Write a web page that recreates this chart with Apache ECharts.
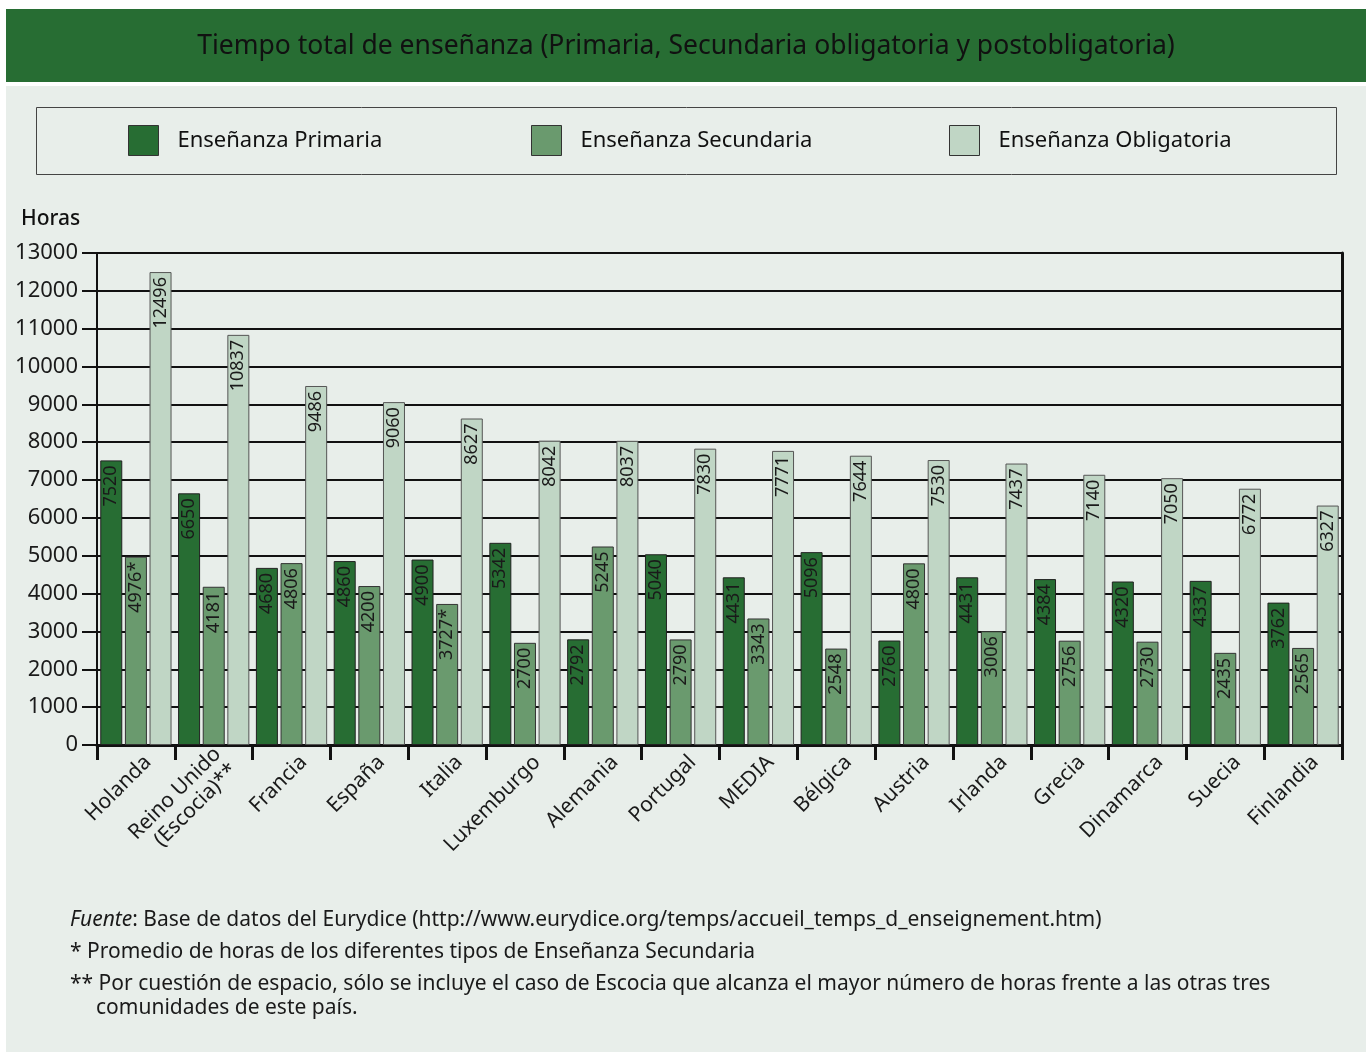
<!DOCTYPE html>
<html>
<head>
<meta charset="utf-8">
<script src="https://cdn.jsdelivr.net/npm/echarts@6/dist/echarts.min.js"></script>
<style>
html,body{margin:0;padding:0;background:#ffffff;}
#c{width:1372px;height:1052px;}
</style>
</head>
<body>
<div id="c"></div>
<script>
const categories = ['Holanda','Reino Unido\n(Escocia)**','Francia','España','Italia','Luxemburgo','Alemania','Portugal','MEDIA','Bélgica','Austria','Irlanda','Grecia','Dinamarca','Suecia','Finlandia'];
const primaria = [7520,6650,4680,4860,4900,5342,2792,5040,4431,5096,2760,4431,4384,4320,4337,3762];
const secundaria = [4976,4181,4806,4200,3727,2700,5245,2790,3343,2548,4800,3006,2756,2730,2435,2565];
const secundariaLabels = ['4976*','4181','4806','4200','3727*','2700','5245','2790','3343','2548','4800','3006','2756','2730','2435','2565'];
const obligatoria = [12496,10837,9486,9060,8627,8042,8037,7830,7771,7644,7530,7437,7140,7050,6772,6327];
const seriesNames = ['Enseñanza Primaria','Enseñanza Secundaria','Enseñanza Obligatoria'];
const colors = ['#276d33','#6a9a6e','#c0d6c5'];

const FONT = '"Noto Sans", "Open Sans", sans-serif';
const chart = echarts.init(document.getElementById('c'));

function labelCfg(fmt){
  return {
    show:true, position:'insideTop', rotate:90, align:'right', verticalAlign:'middle',
    distance:5, fontSize:18, color:'#1a1a1a', fontFamily:FONT,
    formatter: fmt
  };
}

const legendX = [123, 526, 944];

chart.setOption({
  backgroundColor:'#ffffff',
  animation:false,
  graphic:[
    {type:'rect', shape:{x:6,y:9,width:1360,height:73}, style:{fill:'#276d33'}, z:-10},
    {type:'rect', shape:{x:6,y:86,width:1360,height:966}, style:{fill:'#e8eeea'}, z:-10},
    {type:'rect', shape:{x:36.5,y:107.5,width:1300,height:67}, style:{fill:'none',stroke:'#444',lineWidth:1}, z:-5},
    {type:'text', left:21, top:209, style:{text:'Horas', font:'500 21px '+FONT, fill:'#111'}},
    {type:'text', left:70, top:910, style:{
      text:'{i|Fuente}: Base de datos del Eurydice (http://www.eurydice.org/temps/accueil_temps_d_enseignement.htm)',
      font:'21px '+FONT, fill:'#1a1a1a',
      rich:{i:{fontStyle:'italic', fontSize:21, fontFamily:FONT, fill:'#1a1a1a'}}
    }},
    {type:'text', left:70, top:942, style:{text:'* Promedio de horas de los diferentes tipos de Enseñanza Secundaria', font:'21px '+FONT, fill:'#1a1a1a'}},
    {type:'text', left:70, top:974, style:{text:'** Por cuestión de espacio, sólo se incluye el caso de Escocia que alcanza el mayor número de horas frente a las otras tres', font:'21px '+FONT, fill:'#1a1a1a'}},
    {type:'text', left:96, top:998, style:{text:'comunidades de este país.', font:'21px '+FONT, fill:'#1a1a1a'}}
  ],
  title:{
    text:'Tiempo total de enseñanza (Primaria, Secundaria obligatoria y postobligatoria)',
    left:'center', top:28,
    textStyle:{fontSize:26.5, fontWeight:'normal', color:'#111', fontFamily:FONT}
  },
  legend: seriesNames.map((n,i)=>({
    data:[n], left:legendX[i], top:120, itemWidth:30, itemHeight:30, itemGap:0,
    icon:'rect',
    textStyle:{fontSize:22, color:'#111', fontFamily:FONT, padding:[0,0,0,14]},
    itemStyle:{borderColor:'#333', borderWidth:1},
    selectedMode:false
  })),
  grid:{left:97, right:30, top:253, bottom:307},
  xAxis:{
    type:'category', data:categories,
    axisLine:{lineStyle:{color:'#111', width:3}},
    axisTick:{show:true, length:15, lineStyle:{color:'#111', width:3}},
    axisLabel:{rotate:45, fontSize:21, color:'#1a1a1a', fontFamily:FONT, margin:26, interval:0, lineHeight:23, padding:[0,-17,0,0]}
  },
  yAxis:[{
    type:'value', min:0, max:13000, interval:1000,
    axisLine:{show:true, lineStyle:{color:'#111', width:2}},
    axisTick:{show:true, length:15, lineStyle:{color:'#111', width:2}},
    axisLabel:{fontSize:22, color:'#1a1a1a', fontFamily:FONT, margin:19, formatter:v=>String(v)},
    splitLine:{show:true, lineStyle:{color:'#111', width:2}}
  },{
    type:'value', min:0, max:13000, interval:1000, position:'right',
    axisLine:{show:true, lineStyle:{color:'#111', width:3}},
    axisTick:{show:false}, axisLabel:{show:false}, splitLine:{show:false}
  }],
  series:[
    {name:seriesNames[0], type:'bar', data:primaria, barWidth:22, barGap:'12%',
     itemStyle:{color:colors[0], borderColor:'#222', borderWidth:1},
     label:labelCfg(p=>String(primaria[p.dataIndex]))},
    {name:seriesNames[1], type:'bar', data:secundaria, barWidth:22, barGap:'12%',
     itemStyle:{color:colors[1], borderColor:'#333', borderWidth:1},
     label:labelCfg(p=>secundariaLabels[p.dataIndex])},
    {name:seriesNames[2], type:'bar', data:obligatoria, barWidth:22, barGap:'12%',
     itemStyle:{color:colors[2], borderColor:'#555', borderWidth:1},
     label:labelCfg(p=>String(obligatoria[p.dataIndex]))}
  ]
});
</script>
</body>
</html>
